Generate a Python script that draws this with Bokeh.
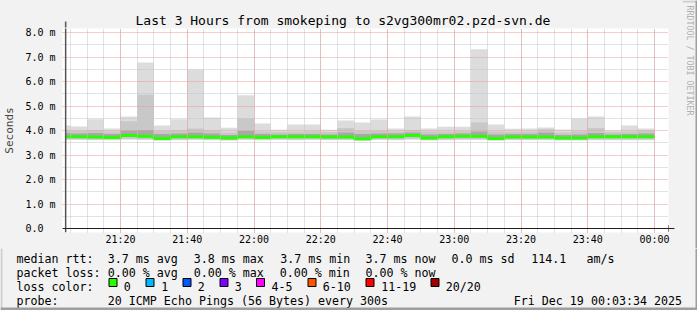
import math
import datetime as dt
from bokeh.plotting import figure
from bokeh.layouts import column, row
from bokeh.models import (FixedTicker, Arrow, NormalHead, Range1d, ColumnDataSource)
from bokeh.core.properties import value
from bokeh.embed import file_html
from bokeh.resources import INLINE

FONT = "DejaVu Sans Mono"
BG = "#f2f2f2"
SHADE_A = "#cfcfcf"
SHADE_B = "#9e9e9e"


def T(h, m, s=0):
    day = 19 if h < 12 else 18
    return dt.datetime(2025, 12, day, h, m, s, tzinfo=dt.timezone.utc).timestamp() * 1000.0


# ---------------- data ----------------
BIN_MS = 300000  # 5 minute probe interval
window_start = T(21, 3, 34)
bar_start = [T(21, 0) + i * BIN_MS for i in range(36)]

rtt_max = [4.20, 4.16, 4.46, 4.08, 4.57, 6.78, 4.20, 4.46, 6.49, 4.53, 4.11, 5.44,
           4.29, 4.03, 4.24, 4.24, 4.03, 4.41, 4.33, 4.45, 4.08, 4.57, 4.08, 4.15,
           4.15, 7.32, 4.24, 4.07, 4.08, 4.12, 4.04, 4.49, 4.57, 4.00, 4.20, 4.08]
rtt_high = [4.02, 3.98, 4.02, 3.96, 4.38, 5.46, 3.98, 4.00, 4.08, 4.00, 3.92, 4.49,
            3.96, 3.94, 3.95, 3.97, 3.94, 4.10, 3.98, 3.98, 3.96, 4.02, 3.96, 3.96,
            3.97, 4.33, 3.96, 3.95, 3.96, 4.05, 3.92, 3.97, 4.10, 3.94, 3.96, 4.00]
rtt_q3 = [3.90, 3.88, 3.90, 3.86, 4.00, 4.02, 3.86, 3.88, 3.92, 3.88, 3.82, 3.98,
          3.86, 3.84, 3.86, 3.86, 3.84, 3.92, 3.86, 3.88, 3.88, 3.92, 3.84, 3.86,
          3.88, 3.96, 3.84, 3.86, 3.86, 3.92, 3.82, 3.84, 3.90, 3.84, 3.86, 3.88]
rtt_median = [3.74, 3.74, 3.73, 3.71, 3.80, 3.77, 3.67, 3.74, 3.74, 3.72, 3.69, 3.75,
              3.71, 3.74, 3.74, 3.75, 3.73, 3.73, 3.66, 3.74, 3.74, 3.80, 3.69, 3.74,
              3.77, 3.77, 3.67, 3.73, 3.73, 3.73, 3.69, 3.69, 3.74, 3.74, 3.74, 3.74]
rtt_q1 = [3.69, 3.69, 3.68, 3.66, 3.74, 3.72, 3.63, 3.69, 3.69, 3.67, 3.64, 3.70,
          3.66, 3.69, 3.69, 3.70, 3.68, 3.68, 3.62, 3.69, 3.69, 3.74, 3.64, 3.69,
          3.72, 3.72, 3.63, 3.68, 3.68, 3.68, 3.64, 3.64, 3.69, 3.69, 3.69, 3.69]
rtt_low = [3.64, 3.64, 3.63, 3.63, 3.66, 3.64, 3.61, 3.63, 3.64, 3.63, 3.61, 3.64,
           3.63, 3.64, 3.63, 3.64, 3.63, 3.63, 3.60, 3.64, 3.63, 3.66, 3.62, 3.63,
           3.64, 3.64, 3.61, 3.63, 3.63, 3.63, 3.62, 3.62, 3.63, 3.63, 3.63, 3.63]
rtt_min = [3.61, 3.61, 3.60, 3.60, 3.62, 3.61, 3.58, 3.60, 3.61, 3.60, 3.58, 3.61,
           3.60, 3.61, 3.60, 3.61, 3.60, 3.60, 3.57, 3.61, 3.60, 3.62, 3.59, 3.60,
           3.61, 3.61, 3.58, 3.60, 3.60, 3.60, 3.59, 3.59, 3.60, 3.60, 3.60, 3.60]

y_ticks = [0, 1, 2, 3, 4, 5, 6, 7, 8]
y_tick_labels = ["0.0", "1.0 m", "2.0 m", "3.0 m", "4.0 m", "5.0 m", "6.0 m", "7.0 m", "8.0 m"]
x_tick_times = [(21, 20), (21, 40), (22, 0), (22, 20), (22, 40), (23, 0), (23, 20), (23, 40), (0, 0)]
x_tick_labels = ["21:20", "21:40", "22:00", "22:20", "22:40", "23:00", "23:20", "23:40", "00:00"]

title_text = "Last 3 Hours from smokeping to s2vg300mr02.pzd-svn.de"
watermark_text = "RRDTOOL / TOBI OETIKER"
rtt_row = ["median rtt:", "3.7 ms avg", "3.8 ms max", "3.7 ms min", "3.7 ms now",
           "0.0 ms sd", "114.1", "am/s"]
loss_row = ["packet loss:", "0.00 % avg", "0.00 % max", "0.00 % min", "0.00 % now"]
loss_heading = "loss color:"
loss_labels = ["0", "1", "2", "3", "4-5", "6-10", "11-19", "20/20"]
loss_colors = ["#26ff00", "#00b8ff", "#0059ff", "#7e00ff", "#ff00ff", "#ff5500", "#ff0000", "#a10000"]
probe_row = ["probe:", "20 ICMP Echo Pings (56 Bytes) every 300s", "Fri Dec 19 00:03:34 2025"]

# ---------------- geometry (page pixels) ----------------
W, H = 697, 310
CHART_W, TOP_H = 682, 248
FL, FR, FT, FB = 62, 668, 28, 232
PX_PER_MIN = 66.75 / 20.0
PX_PER_UNIT = 24.5
x0 = T(21, 20) - (120 - FL) / PX_PER_MIN * 60000
x1 = x0 + (FR - FL) / PX_PER_MIN * 60000
y0 = -(FB - 228) / PX_PER_UNIT
y1 = y0 + (FB - FT) / PX_PER_UNIT


def xpx(X):
    return x0 + (X - FL) / PX_PER_MIN * 60000


def ypx(Y):
    return (228 - Y) / PX_PER_UNIT


# ---------------- main chart ----------------
p = figure(width=CHART_W, height=TOP_H, output_backend="svg", toolbar_location=None,
           x_axis_type="datetime", x_range=Range1d(x0, x1), y_range=Range1d(y0, y1),
           min_border_left=FL, min_border_right=CHART_W - FR, min_border_top=FT,
           min_border_bottom=TOP_H - FB, background_fill_color="white",
           border_fill_color=BG, outline_line_color=None)

p.title.text = title_text
p.title.align = "left"
p.title.offset = 73
p.title.standoff = 2
p.title.text_font = FONT
p.title.text_font_size = "13px"
p.title.text_font_style = "normal"
p.title.text_color = "black"

lefts = [max(s, window_start) for s in bar_start]
rights = [s + BIN_MS for s in bar_start]
for lo, hi, col in [(rtt_min, rtt_max, "#dcdcdc"), (rtt_low, rtt_high, "#c8c8c8"),
                    (rtt_q1, rtt_q3, "#a8a8a8")]:
    src = ColumnDataSource(dict(left=lefts, right=rights, bottom=lo, top=hi))
    p.quad(left="left", right="right", bottom="bottom", top="top", source=src,
           fill_color=col, line_color=None)

edges = lefts + [rights[-1]]
p.step(x=edges, y=rtt_median + [rtt_median[-1]], mode="after", line_width=3,
       line_color=loss_colors[0])

xt = [T(h, m) for h, m in x_tick_times]
xminor = [T(21, 5) + i * BIN_MS for i in range(36)]
xticker = FixedTicker(ticks=xt, minor_ticks=xminor)
yticker = FixedTicker(ticks=y_ticks, minor_ticks=[v + 0.5 for v in y_ticks[:-1]])
p.xaxis.ticker = xticker
p.xgrid.ticker = xticker
p.yaxis.ticker = yticker
p.ygrid.ticker = yticker
lw = max(len(s) for s in y_tick_labels)
p.yaxis.major_label_overrides = {v: s + "\u00a0" * (lw - len(s)) for v, s in zip(y_ticks, y_tick_labels)}
p.xaxis.major_label_overrides = {int(t): s for t, s in zip(xt, x_tick_labels)}

for ax in (p.xaxis, p.yaxis):
    ax.axis_line_color = None
    ax.major_tick_line_color = None
    ax.minor_tick_line_color = None
    ax.major_tick_out = 0
    ax.major_tick_in = 0
    ax.major_label_text_font = FONT
    ax.major_label_text_font_size = "10px"
    ax.major_label_text_color = "black"
p.yaxis.major_label_standoff = 3
p.xaxis.major_label_standoff = -3
p.yaxis.axis_label = "Seconds"
p.yaxis.axis_label_text_font = FONT
p.yaxis.axis_label_text_font_size = "11px"
p.yaxis.axis_label_text_font_style = "normal"
p.yaxis.axis_label_standoff = 6

for g in (p.xgrid, p.ygrid):
    g.grid_line_color = "#eb9a9a"
    g.grid_line_dash = "1 1"
    g.grid_line_width = 1
    g.minor_grid_line_color = "#c4c4c4"
    g.minor_grid_line_dash = "1 1"
    g.level = "guide"

# axis lines with arrow heads
p.add_layout(Arrow(end=NormalHead(size=6, fill_color="#801f1f", line_color="#801f1f"),
                   x_start=window_start, y_start=y0, x_end=window_start,
                   y_end=ypx(21), line_color="#555555", line_width=1.5))
p.add_layout(Arrow(end=NormalHead(size=6, fill_color="#801f1f", line_color="#801f1f"),
                   x_start=x0, y_start=0, x_end=xpx(674), y_end=0,
                   line_color="#1f1f1f", line_width=1))
# page frame shading (left / top edges of the chart part)
p.add_layout(Arrow(end=None, x_start=xpx(1), y_start=ypx(0), x_end=xpx(1), y_end=ypx(TOP_H),
                   line_color=SHADE_A, line_width=2))
p.add_layout(Arrow(end=None, x_start=xpx(0), y_start=ypx(1), x_end=xpx(CHART_W), y_end=ypx(1),
                   line_color=SHADE_A, line_width=2))


# ---------------- helper: blank pixel-space figure ----------------
def pixel_fig(w, h, X0, Y0):
    f = figure(width=w, height=h, output_backend="svg", toolbar_location=None, title=None,
               x_range=Range1d(X0, X0 + w), y_range=Range1d(-(Y0 + h), -Y0),
               min_border=0, x_axis_location=None, y_axis_location=None,
               background_fill_color=BG, border_fill_color=BG, outline_line_color=None)
    f.grid.visible = False
    return f


# ---------------- watermark strip ----------------
wm = pixel_fig(W - CHART_W, TOP_H, CHART_W, 0)
wm.text(x=[689.5], y=[-60], text=[watermark_text], angle=-math.pi / 2,
        text_font=value(FONT), text_font_size=value("8.3px"), text_color="#b0b0b0",
        text_align="center", text_baseline="middle")
wm.quad(left=[682, 695], right=[697, 697], top=[0, 0], bottom=[-2, -TOP_H],
        fill_color=[SHADE_A, SHADE_B], line_color=None)

# ---------------- legend block ----------------
lg = pixel_fig(W, H - TOP_H, 0, TOP_H)
LEG = value("11.65px")
texts, xs, ys = [], [], []
for items, pos, Y in [(rtt_row, [16, 107.3, 193.3, 279.7, 365, 451, 530.7, 586], 258),
                      (loss_row, [16, 107.3, 193.3, 279.3, 365], 272),
                      ([loss_heading] + loss_labels,
                       [16, 123.3, 160.7, 197.3, 234.3, 271, 322.3, 380.7, 445.3], 286),
                      (probe_row, [16, 107.3, 513.3], 300)]:
    for s, X in zip(items, pos):
        texts.append(s)
        xs.append(X)
        ys.append(-Y)
lg.text(x=xs, y=ys, text=texts, text_font=value(FONT), text_font_size=LEG,
        text_color="black", text_align="left", text_baseline="alphabetic")
box_x = [108.5, 145.5, 182.5, 219.5, 256, 307.5, 365.5, 430.5]
lg.quad(left=box_x, right=[b + 8 for b in box_x], top=[-278] * 8, bottom=[-286] * 8,
        fill_color=loss_colors, line_color="black", line_width=1)
lg.quad(left=[0, 0, 695], right=[2, 697, 697], top=[-TOP_H, -307, -TOP_H],
        bottom=[-H, -H, -H], fill_color=[SHADE_A, SHADE_B, SHADE_B], line_color=None)

# the watermark strip is wrapped in its own column so that its frame is not
# aligned with the chart frame by the row layout
layout = column(row(p, column(wm, styles={"background-color": BG}),
                    styles={"background-color": BG}),
                lg, styles={"background-color": BG})
open("out.html", "w").write(file_html(layout, INLINE))
